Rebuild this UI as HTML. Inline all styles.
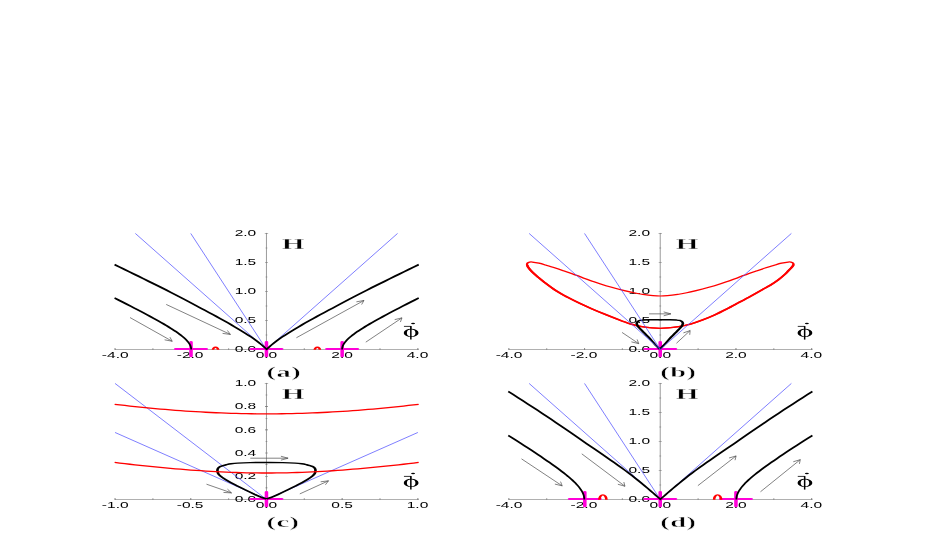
<!DOCTYPE html>
<html>
<head>
<meta charset="utf-8">
<title>Phase portraits</title>
<style>
html,body{margin:0;padding:0;background:#fff;}
body{width:926px;height:545px;overflow:hidden;font-family:"Liberation Sans",sans-serif;}
svg{display:block;will-change:transform;}
</style>
</head>
<body>
<svg width="926" height="545" viewBox="0 0 926 545">
<g transform="scale(1.87,1)">
<line x1="61.44" y1="349.45" x2="223.93" y2="349.45" stroke="#b0b0b0" stroke-width="1" />
<line x1="142.49" y1="349.45" x2="142.49" y2="232.95" stroke="#7c7c7c" stroke-width="0.53" />
<path d="M81.76 349.45v-1M122.25 349.45v-1M162.73 349.45v-1M203.21 349.45v-1M61.52 349.75v-1.6M102.01 349.75v-1.6M142.49 349.75v-1.6M182.97 349.75v-1.6M223.45 349.75v-1.6M141.99 334.95h1M141.99 305.95h1M141.99 276.95h1M141.99 247.95h1M141.69 349.45h1.6M141.69 320.45h1.6M141.69 291.45h1.6M141.69 262.45h1.6M141.69 233.45h1.6M141.59 233.45h1.8" fill="none" stroke="#6e6e6e" stroke-width="0.6" />
<text x="61.63" y="357.75" font-family="'Liberation Sans', sans-serif" font-size="8.3" font-weight="normal" text-anchor="middle" fill="#000">-4.0</text>
<text x="101.68" y="357.75" font-family="'Liberation Sans', sans-serif" font-size="8.3" font-weight="normal" text-anchor="middle" fill="#000">-2.0</text>
<text x="142.49" y="357.75" font-family="'Liberation Sans', sans-serif" font-size="8.3" font-weight="normal" text-anchor="middle" fill="#000">0.0</text>
<text x="182.97" y="357.75" font-family="'Liberation Sans', sans-serif" font-size="8.3" font-weight="normal" text-anchor="middle" fill="#000">2.0</text>
<text x="223.29" y="357.75" font-family="'Liberation Sans', sans-serif" font-size="8.3" font-weight="normal" text-anchor="middle" fill="#000">4.0</text>
<text x="137.03" y="352.15" font-family="'Liberation Sans', sans-serif" font-size="8.3" font-weight="normal" text-anchor="end" fill="#000">0.0</text>
<text x="137.03" y="323.15" font-family="'Liberation Sans', sans-serif" font-size="8.3" font-weight="normal" text-anchor="end" fill="#000">0.5</text>
<text x="137.03" y="294.15" font-family="'Liberation Sans', sans-serif" font-size="8.3" font-weight="normal" text-anchor="end" fill="#000">1.0</text>
<text x="137.03" y="265.15" font-family="'Liberation Sans', sans-serif" font-size="8.3" font-weight="normal" text-anchor="end" fill="#000">1.5</text>
<text x="137.03" y="236.15" font-family="'Liberation Sans', sans-serif" font-size="8.3" font-weight="normal" text-anchor="end" fill="#000">2.0</text>
<text x="150.72" y="249.45" font-family="'Liberation Serif', serif" font-size="15.6" font-weight="bold" text-anchor="start" fill="#000" stroke="#fff" stroke-width="0.35">H</text>
<line x1="102.01" y1="233.45" x2="142.49" y2="349.45" stroke="#4c4cff" stroke-width="0.5" />
<line x1="72.37" y1="233.45" x2="142.49" y2="349.45" stroke="#4c4cff" stroke-width="0.5" />
<line x1="212.6" y1="233.45" x2="142.49" y2="349.45" stroke="#4c4cff" stroke-width="0.5" />
<line x1="93.96" y1="349.05" x2="110.32" y2="349.05" stroke="#ff00d8" stroke-width="1.9" stroke-linecap="round"/>
<line x1="102.14" y1="341.95" x2="102.14" y2="356.25" stroke="#ff00d8" stroke-width="1.9" stroke-linecap="round"/>
<line x1="134.3" y1="349.05" x2="150.67" y2="349.05" stroke="#ff00d8" stroke-width="1.9" stroke-linecap="round"/>
<line x1="142.49" y1="341.95" x2="142.49" y2="356.25" stroke="#ff00d8" stroke-width="1.9" stroke-linecap="round"/>
<line x1="174.79" y1="349.05" x2="191.15" y2="349.05" stroke="#ff00d8" stroke-width="1.9" stroke-linecap="round"/>
<line x1="182.97" y1="341.95" x2="182.97" y2="356.25" stroke="#ff00d8" stroke-width="1.9" stroke-linecap="round"/>
<path d="M61.27 264.58L63.9 266.98L66.51 269.36L69.11 271.72L71.68 274.07L74.23 276.42L76.76 278.75L79.26 281.07L81.75 283.37L84.21 285.66L86.64 287.93L89.05 290.18L91.44 292.43L93.8 294.68L96.14 296.95L98.45 299.23L100.73 301.5L102.98 303.75L105.21 305.97L107.4 308.17L109.56 310.33L111.7 312.45L113.79 314.55L115.86 316.64L117.88 318.71L119.87 320.76L121.82 322.81L123.73 324.87L125.59 326.91L127.41 328.93L129.18 330.93L130.9 332.92L132.56 334.89L134.16 336.83L135.69 338.75L137.15 340.71L138.52 342.7L139.79 344.65L140.94 346.49L141.92 348.11L142.59 349.25L143.27 348.11L144.25 346.49L145.4 344.65L146.67 342.7L148.04 340.71L149.5 338.75L151.03 336.83L152.63 334.89L154.29 332.92L156.01 330.93L157.78 328.93L159.6 326.91L161.46 324.87L163.37 322.81L165.32 320.76L167.31 318.71L169.33 316.64L171.39 314.55L173.49 312.45L175.62 310.33L177.79 308.17L179.98 305.97L182.2 303.75L184.46 301.5L186.74 299.23L189.05 296.95L191.38 294.68L193.75 292.43L196.13 290.18L198.54 287.93L200.98 285.66L203.44 283.37L205.93 281.07L208.43 278.75L210.96 276.42L213.51 274.07L216.08 271.72L218.67 269.36L221.29 266.98L223.92 264.58" fill="none" stroke="#000" stroke-width="1.8" stroke-linejoin="round" vector-effect="non-scaling-stroke"/>
<path d="M182.95 349.45L182.96 348.82L183.01 348.09L183.09 347.33L183.21 346.54L183.37 345.72L183.58 344.88L183.84 344.02L184.14 343.14L184.49 342.23L184.89 341.31L185.34 340.36L185.85 339.39L186.41 338.4L187.02 337.38L187.69 336.33L188.41 335.26L189.19 334.16L190.02 333.02L190.92 331.86L191.87 330.66L192.88 329.43L193.95 328.16L195.08 326.86L196.27 325.52L197.52 324.14L198.83 322.71L200.21 321.25L201.64 319.75L203.14 318.2L204.71 316.61L206.34 314.97L208.03 313.28L209.78 311.55L211.6 309.77L213.49 307.94L215.44 306.06L217.46 304.13L219.55 302.15L221.7 300.11L223.92 298.03" fill="none" stroke="#000" stroke-width="1.8" vector-effect="non-scaling-stroke"/>
<path d="M102.24 349.45L102.22 348.82L102.18 348.09L102.1 347.33L101.98 346.54L101.81 345.72L101.6 344.88L101.35 344.02L101.05 343.14L100.7 342.23L100.29 341.31L99.84 340.36L99.34 339.39L98.78 338.4L98.17 337.38L97.5 336.33L96.78 335.26L96 334.16L95.16 333.02L94.27 331.86L93.32 330.66L92.31 329.43L91.24 328.16L90.11 326.86L88.92 325.52L87.67 324.14L86.36 322.71L84.98 321.25L83.54 319.75L82.04 318.2L80.48 316.61L78.85 314.97L77.16 313.28L75.4 311.55L73.58 309.77L71.7 307.94L69.74 306.06L67.72 304.13L65.64 302.15L63.49 300.11L61.27 298.03" fill="none" stroke="#000" stroke-width="1.8" vector-effect="non-scaling-stroke"/>
<path d="M113.9 349.75A1.36 2.5 0 0 1 116.63 349.75" fill="none" stroke="#ff0000" stroke-width="1.4" />
<path d="M168.34 349.75A1.36 2.5 0 0 1 171.07 349.75" fill="none" stroke="#ff0000" stroke-width="1.4" />
<path d="M69.52 317.55L92.09 341.25M90.86 337.13L92.09 341.25L88.03 339.82" fill="none" stroke="#505050" stroke-width="0.5" />
<path d="M88.88 304.45L123.21 334.45M121.61 330.46L123.21 334.45L119.04 333.4" fill="none" stroke="#505050" stroke-width="0.5" />
<path d="M158.5 337.75L194.65 300.45M190.58 301.84L194.65 300.45L193.39 304.56" fill="none" stroke="#505050" stroke-width="0.5" />
<path d="M195.61 342.15L214.97 317.85M211.06 319.63L214.97 317.85L214.11 322.06" fill="none" stroke="#505050" stroke-width="0.5" />
<text x="142.54" y="377.05" font-family="'Liberation Serif', serif" font-size="15.2" font-weight="bold" text-anchor="start" fill="#000" stroke="#fff" stroke-width="0.35" letter-spacing="0.25">(a)</text>
<line x1="272.03" y1="499.45" x2="434.52" y2="499.45" stroke="#b0b0b0" stroke-width="1" />
<line x1="353.07" y1="499.45" x2="353.07" y2="382.95" stroke="#7c7c7c" stroke-width="0.53" />
<path d="M292.35 499.45v-1M332.83 499.45v-1M373.32 499.45v-1M413.8 499.45v-1M272.11 499.75v-1.6M312.59 499.75v-1.6M353.07 499.75v-1.6M393.56 499.75v-1.6M434.04 499.75v-1.6M352.57 484.95h1M352.57 455.95h1M352.57 426.95h1M352.57 397.95h1M352.27 499.45h1.6M352.27 470.45h1.6M352.27 441.45h1.6M352.27 412.45h1.6M352.27 383.45h1.6M352.17 383.45h1.8" fill="none" stroke="#6e6e6e" stroke-width="0.6" />
<text x="272.22" y="507.75" font-family="'Liberation Sans', sans-serif" font-size="8.3" font-weight="normal" text-anchor="middle" fill="#000">-4.0</text>
<text x="312.27" y="507.75" font-family="'Liberation Sans', sans-serif" font-size="8.3" font-weight="normal" text-anchor="middle" fill="#000">-2.0</text>
<text x="353.07" y="507.75" font-family="'Liberation Sans', sans-serif" font-size="8.3" font-weight="normal" text-anchor="middle" fill="#000">0.0</text>
<text x="393.56" y="507.75" font-family="'Liberation Sans', sans-serif" font-size="8.3" font-weight="normal" text-anchor="middle" fill="#000">2.0</text>
<text x="433.88" y="507.75" font-family="'Liberation Sans', sans-serif" font-size="8.3" font-weight="normal" text-anchor="middle" fill="#000">4.0</text>
<text x="347.62" y="502.15" font-family="'Liberation Sans', sans-serif" font-size="8.3" font-weight="normal" text-anchor="end" fill="#000">0.0</text>
<text x="347.62" y="473.15" font-family="'Liberation Sans', sans-serif" font-size="8.3" font-weight="normal" text-anchor="end" fill="#000">0.5</text>
<text x="347.62" y="444.15" font-family="'Liberation Sans', sans-serif" font-size="8.3" font-weight="normal" text-anchor="end" fill="#000">1.0</text>
<text x="347.62" y="415.15" font-family="'Liberation Sans', sans-serif" font-size="8.3" font-weight="normal" text-anchor="end" fill="#000">1.5</text>
<text x="347.62" y="386.15" font-family="'Liberation Sans', sans-serif" font-size="8.3" font-weight="normal" text-anchor="end" fill="#000">2.0</text>
<text x="361.31" y="399.45" font-family="'Liberation Serif', serif" font-size="15.6" font-weight="bold" text-anchor="start" fill="#000" stroke="#fff" stroke-width="0.35">H</text>
<line x1="312.59" y1="383.45" x2="353.07" y2="499.45" stroke="#4c4cff" stroke-width="0.5" />
<line x1="282.96" y1="383.45" x2="353.07" y2="499.45" stroke="#4c4cff" stroke-width="0.5" />
<line x1="423.19" y1="383.45" x2="353.07" y2="499.45" stroke="#4c4cff" stroke-width="0.5" />
<line x1="304.55" y1="499.05" x2="320.91" y2="499.05" stroke="#ff00d8" stroke-width="1.9" stroke-linecap="round"/>
<line x1="312.73" y1="491.95" x2="312.73" y2="506.25" stroke="#ff00d8" stroke-width="1.9" stroke-linecap="round"/>
<line x1="344.89" y1="499.05" x2="361.26" y2="499.05" stroke="#ff00d8" stroke-width="1.9" stroke-linecap="round"/>
<line x1="353.07" y1="491.95" x2="353.07" y2="506.25" stroke="#ff00d8" stroke-width="1.9" stroke-linecap="round"/>
<line x1="385.37" y1="499.05" x2="401.74" y2="499.05" stroke="#ff00d8" stroke-width="1.9" stroke-linecap="round"/>
<line x1="393.56" y1="491.95" x2="393.56" y2="506.25" stroke="#ff00d8" stroke-width="1.9" stroke-linecap="round"/>
<path d="M271.8 391.44L274.44 394.56L277.05 397.67L279.64 400.79L282.21 403.9L284.76 407L287.29 410.11L289.8 413.21L292.28 416.3L294.74 419.37L297.18 422.43L299.59 425.48L301.98 428.51L304.34 431.53L306.67 434.53L308.98 437.53L311.27 440.5L313.52 443.39L315.74 446.18L317.94 448.94L320.1 451.71L322.23 454.48L324.33 457.22L326.39 459.91L328.42 462.54L330.41 465.16L332.35 467.77L334.26 470.36L336.13 472.96L337.95 475.58L339.71 478.2L341.43 480.78L343.09 483.32L344.69 485.79L346.22 488.18L347.68 490.48L349.05 492.67L350.32 494.71L351.47 496.56L352.46 498.16L353.13 499.25L353.8 498.16L354.78 496.56L355.93 494.71L357.2 492.67L358.58 490.48L360.03 488.18L361.57 485.79L363.16 483.32L364.83 480.78L366.54 478.2L368.31 475.58L370.13 472.96L371.99 470.36L373.9 467.77L375.85 465.16L377.84 462.54L379.87 459.91L381.93 457.22L384.03 454.48L386.16 451.71L388.32 448.94L390.51 446.18L392.74 443.39L394.99 440.5L397.27 437.53L399.58 434.53L401.92 431.53L404.28 428.51L406.67 425.48L409.08 422.43L411.52 419.37L413.98 416.3L416.46 413.21L418.97 410.11L421.49 407L424.04 403.9L426.62 400.79L429.21 397.67L431.82 394.56L434.45 391.44" fill="none" stroke="#000" stroke-width="1.8" stroke-linejoin="round" vector-effect="non-scaling-stroke"/>
<path d="M393.79 499.45L393.8 498.67L393.85 497.78L393.93 496.83L394.05 495.85L394.21 494.84L394.42 493.8L394.67 492.74L394.97 491.65L395.32 490.53L395.72 489.39L396.17 488.22L396.67 487.02L397.22 485.79L397.83 484.52L398.49 483.23L399.21 481.9L399.98 480.53L400.81 479.12L401.7 477.67L402.64 476.18L403.64 474.65L404.71 473.07L405.83 471.45L407.01 469.77L408.25 468.05L409.55 466.28L410.92 464.45L412.34 462.57L413.83 460.64L415.39 458.65L417 456.6L418.68 454.49L420.42 452.33L422.23 450.1L424.1 447.81L426.04 445.45L428.05 443.04L430.12 440.55L432.25 438.01L434.45 435.39" fill="none" stroke="#000" stroke-width="1.8" vector-effect="non-scaling-stroke"/>
<path d="M312.47 499.45L312.45 498.67L312.41 497.78L312.33 496.83L312.21 495.85L312.05 494.84L311.84 493.8L311.59 492.74L311.29 491.65L310.94 490.53L310.54 489.39L310.09 488.22L309.59 487.02L309.03 485.79L308.43 484.52L307.77 483.23L307.05 481.9L306.28 480.53L305.45 479.12L304.56 477.67L303.62 476.18L302.61 474.65L301.55 473.07L300.43 471.45L299.25 469.77L298.01 468.05L296.7 466.28L295.34 464.45L293.91 462.57L292.42 460.64L290.87 458.65L289.26 456.6L287.58 454.49L285.83 452.33L284.03 450.1L282.15 447.81L280.21 445.45L278.21 443.04L276.14 440.55L274.01 438.01L271.8 435.39" fill="none" stroke="#000" stroke-width="1.8" vector-effect="non-scaling-stroke"/>
<path d="M320.53 499.75A1.87 4.9 0 0 1 324.28 499.75" fill="none" stroke="#ff0000" stroke-width="1.4" />
<path d="M381.87 499.75A1.87 4.9 0 0 1 385.61 499.75" fill="none" stroke="#ff0000" stroke-width="1.4" />
<path d="M278.88 458.85L300.64 485.85M299.76 481.64L300.64 485.85L296.72 484.09" fill="none" stroke="#505050" stroke-width="0.5" />
<path d="M311.12 453.85L334.22 486.25M333.59 482L334.22 486.25L330.41 484.26" fill="none" stroke="#505050" stroke-width="0.5" />
<path d="M373.21 485.65L393.64 455.95M389.86 458L393.64 455.95L393.07 460.21" fill="none" stroke="#505050" stroke-width="0.5" />
<path d="M406.68 491.75L427.97 459.65M424.22 461.76L427.97 459.65L427.48 463.92" fill="none" stroke="#505050" stroke-width="0.5" />
<text x="353.13" y="527.05" font-family="'Liberation Serif', serif" font-size="15.2" font-weight="bold" text-anchor="start" fill="#000" stroke="#fff" stroke-width="0.35" letter-spacing="0.25">(d)</text>
<line x1="272.03" y1="349.45" x2="434.52" y2="349.45" stroke="#b0b0b0" stroke-width="1" />
<line x1="353.07" y1="349.45" x2="353.07" y2="232.95" stroke="#7c7c7c" stroke-width="0.53" />
<path d="M292.35 349.45v-1M332.83 349.45v-1M373.32 349.45v-1M413.8 349.45v-1M272.11 349.75v-1.6M312.59 349.75v-1.6M353.07 349.75v-1.6M393.56 349.75v-1.6M434.04 349.75v-1.6M352.57 334.95h1M352.57 305.95h1M352.57 276.95h1M352.57 247.95h1M352.27 349.45h1.6M352.27 320.45h1.6M352.27 291.45h1.6M352.27 262.45h1.6M352.27 233.45h1.6M352.17 233.45h1.8" fill="none" stroke="#6e6e6e" stroke-width="0.6" />
<text x="272.22" y="357.75" font-family="'Liberation Sans', sans-serif" font-size="8.3" font-weight="normal" text-anchor="middle" fill="#000">-4.0</text>
<text x="312.27" y="357.75" font-family="'Liberation Sans', sans-serif" font-size="8.3" font-weight="normal" text-anchor="middle" fill="#000">-2.0</text>
<text x="353.07" y="357.75" font-family="'Liberation Sans', sans-serif" font-size="8.3" font-weight="normal" text-anchor="middle" fill="#000">0.0</text>
<text x="393.56" y="357.75" font-family="'Liberation Sans', sans-serif" font-size="8.3" font-weight="normal" text-anchor="middle" fill="#000">2.0</text>
<text x="433.88" y="357.75" font-family="'Liberation Sans', sans-serif" font-size="8.3" font-weight="normal" text-anchor="middle" fill="#000">4.0</text>
<text x="347.62" y="352.15" font-family="'Liberation Sans', sans-serif" font-size="8.3" font-weight="normal" text-anchor="end" fill="#000">0.0</text>
<text x="347.62" y="323.15" font-family="'Liberation Sans', sans-serif" font-size="8.3" font-weight="normal" text-anchor="end" fill="#000">0.5</text>
<text x="347.62" y="294.15" font-family="'Liberation Sans', sans-serif" font-size="8.3" font-weight="normal" text-anchor="end" fill="#000">1.0</text>
<text x="347.62" y="265.15" font-family="'Liberation Sans', sans-serif" font-size="8.3" font-weight="normal" text-anchor="end" fill="#000">1.5</text>
<text x="347.62" y="236.15" font-family="'Liberation Sans', sans-serif" font-size="8.3" font-weight="normal" text-anchor="end" fill="#000">2.0</text>
<text x="361.31" y="249.45" font-family="'Liberation Serif', serif" font-size="15.6" font-weight="bold" text-anchor="start" fill="#000" stroke="#fff" stroke-width="0.35">H</text>
<line x1="344.89" y1="349.05" x2="361.26" y2="349.05" stroke="#ff00d8" stroke-width="1.9" stroke-linecap="round"/>
<line x1="353.07" y1="341.95" x2="353.07" y2="356.25" stroke="#ff00d8" stroke-width="1.9" stroke-linecap="round"/>
<path d="M353.07 296C356.37 296 360.26 294.94 362.97 294.25C365.68 293.56 367.21 292.73 369.33 291.85C371.45 290.97 373.57 289.98 375.7 288.95C377.83 287.92 379.98 286.83 382.11 285.65C384.24 284.47 386.35 283.22 388.48 281.85C390.6 280.48 392.89 278.82 394.84 277.45C396.79 276.08 398.5 274.78 400.19 273.65C401.87 272.52 403.31 271.67 404.95 270.65C406.58 269.63 408.42 268.5 410 267.55C411.58 266.6 413.11 265.68 414.44 264.95C415.77 264.22 416.79 263.63 417.97 263.15C419.14 262.67 420.67 262.22 421.5 262.05C422.33 261.87 422.53 261.96 422.94 262.1C423.35 262.24 423.73 262.54 423.96 262.9C424.19 263.26 424.33 263.75 424.33 264.25C424.33 264.75 424.19 265.24 423.96 265.9C423.73 266.56 423.35 267.37 422.94 268.2C422.53 269.03 422.02 269.89 421.5 270.9C420.97 271.91 420.67 272.76 419.79 274.25C418.9 275.74 417.49 278.02 416.18 279.85C414.86 281.68 413.32 283.62 411.9 285.25C410.47 286.88 409.4 287.78 407.62 289.65C405.84 291.52 403.33 294.25 401.2 296.45C399.07 298.65 396.96 300.73 394.84 302.85C392.72 304.97 390.6 307.13 388.48 309.15C386.35 311.17 384.24 313.15 382.11 314.95C379.98 316.75 377.83 318.43 375.7 319.95C373.57 321.47 371.45 322.93 369.33 324.05C367.21 325.17 365.68 325.93 362.97 326.65C360.26 327.37 356.37 328.35 353.07 328.35C349.78 328.35 345.89 327.42 343.18 326.65C340.47 325.88 339.16 325.12 336.82 323.75C334.47 322.38 331.47 320.12 329.12 318.45C326.77 316.77 324.85 315.32 322.73 313.7C320.6 312.07 318.49 310.43 316.36 308.7C314.24 306.97 312.1 305.19 309.97 303.3C307.84 301.41 305.71 299.47 303.58 297.35C301.46 295.22 299.34 293.13 297.22 290.55C295.09 287.97 292.42 284.1 290.83 281.85C289.23 279.6 288.71 278.74 287.65 277.05C286.58 275.36 285.29 273.29 284.44 271.7C283.59 270.11 282.95 268.54 282.54 267.5C282.13 266.46 282.13 265.99 282.01 265.45C281.89 264.91 281.79 264.68 281.82 264.25C281.85 263.82 281.96 263.26 282.19 262.9C282.42 262.54 282.8 262.24 283.21 262.1C283.62 261.96 283.82 261.87 284.65 262.05C285.48 262.22 287.01 262.67 288.18 263.15C289.36 263.63 290.38 264.22 291.71 264.95C293.04 265.68 294.57 266.6 296.15 267.55C297.73 268.5 299.57 269.63 301.2 270.65C302.84 271.67 304.28 272.52 305.96 273.65C307.65 274.78 309.36 276.08 311.31 277.45C313.26 278.82 315.55 280.48 317.67 281.85C319.8 283.22 321.91 284.47 324.04 285.65C326.17 286.83 328.32 287.92 330.45 288.95C332.58 289.98 334.7 290.97 336.82 291.85C338.94 292.73 340.47 293.56 343.18 294.25C345.89 294.94 349.78 296 353.07 296Z" fill="none" stroke="#ff0000" stroke-width="1.2" />
<path d="M282.01 265.45C282.09 265.79 282.13 266.46 282.54 267.5C282.95 268.54 283.59 270.11 284.44 271.7C285.29 273.29 286.58 275.36 287.65 277.05C288.71 278.74 289.23 279.6 290.83 281.85C292.42 284.1 295.09 287.97 297.22 290.55C299.34 293.13 301.46 295.22 303.58 297.35C305.71 299.47 307.84 301.41 309.97 303.3C312.1 305.19 314.24 306.97 316.36 308.7C318.49 310.43 320.6 312.07 322.73 313.7C324.85 315.32 326.77 316.77 329.12 318.45C331.47 320.12 334.47 322.38 336.82 323.75C339.16 325.12 340.47 325.88 343.18 326.65C345.89 327.42 349.78 328.35 353.07 328.35C356.37 328.35 360.26 327.37 362.97 326.65C365.68 325.93 367.21 325.17 369.33 324.05C371.45 322.93 373.57 321.47 375.7 319.95C377.83 318.43 379.98 316.75 382.11 314.95C384.24 313.15 386.35 311.17 388.48 309.15C390.6 307.13 392.72 304.97 394.84 302.85C396.96 300.73 399.07 298.65 401.2 296.45C403.33 294.25 405.84 291.52 407.62 289.65C409.4 287.78 410.47 286.88 411.9 285.25C413.32 283.62 414.86 281.68 416.18 279.85C417.49 278.02 418.9 275.74 419.79 274.25C420.67 272.76 420.97 271.91 421.5 270.9C422.02 269.89 422.53 269.03 422.94 268.2C423.35 267.37 423.74 266.46 423.96 265.9C424.18 265.34 424.2 265.03 424.25 264.85" fill="none" stroke="#ff0000" stroke-width="1.45" stroke-linecap="round"/>
<path d="M352.83 349.15C352.51 348.57 351.52 346.88 350.91 345.7C350.29 344.52 349.73 343.27 349.14 342.05C348.56 340.83 347.99 339.56 347.41 338.4C346.83 337.24 346.25 336.2 345.67 335.1C345.09 334 344.51 332.9 343.93 331.8C343.35 330.7 342.68 329.48 342.19 328.5C341.71 327.52 341.3 326.72 341.02 325.9C340.73 325.08 340.49 324.32 340.48 323.6C340.47 322.88 340.68 322.12 340.96 321.6C341.25 321.07 341.7 320.71 342.19 320.45C342.69 320.19 343.06 320.16 343.93 320.05C344.8 319.94 345.92 319.86 347.41 319.8C348.89 319.74 351.93 319.72 352.83 319.7M352.83 349.15C353.16 348.57 354.14 346.88 354.76 345.7C355.37 344.52 355.94 343.27 356.52 342.05C357.11 340.83 357.68 339.56 358.26 338.4C358.84 337.24 359.42 336.2 360 335.1C360.58 334 361.16 332.9 361.74 331.8C362.32 330.7 362.99 329.48 363.48 328.5C363.96 327.52 364.37 326.72 364.65 325.9C364.94 325.08 365.18 324.32 365.19 323.6C365.2 322.88 364.99 322.12 364.71 321.6C364.42 321.07 363.97 320.71 363.48 320.45C362.98 320.19 362.61 320.16 361.74 320.05C360.87 319.94 359.75 319.86 358.26 319.8C356.78 319.74 353.74 319.72 352.83 319.7" fill="none" stroke="#000" stroke-width="1.4" stroke-linejoin="round"/>
<line x1="312.59" y1="233.45" x2="353.07" y2="349.45" stroke="#4c4cff" stroke-width="0.5" />
<line x1="282.96" y1="233.45" x2="353.07" y2="349.45" stroke="#4c4cff" stroke-width="0.5" />
<line x1="423.19" y1="233.45" x2="353.07" y2="349.45" stroke="#4c4cff" stroke-width="0.5" />
<path d="M347.09 313.85L358.74 313.85M354.91 311.9L358.74 313.85L354.91 315.8" fill="none" stroke="#505050" stroke-width="0.5" />
<path d="M332.65 332.45L341.58 343.65M340.72 339.44L341.58 343.65L337.66 341.87" fill="none" stroke="#505050" stroke-width="0.5" />
<path d="M361.74 343.25L369.06 330.55M365.46 332.89L369.06 330.55L368.84 334.84" fill="none" stroke="#505050" stroke-width="0.5" />
<text x="353.13" y="377.05" font-family="'Liberation Serif', serif" font-size="15.2" font-weight="bold" text-anchor="start" fill="#000" stroke="#fff" stroke-width="0.35" letter-spacing="0.25">(b)</text>
<line x1="61.44" y1="499.45" x2="223.93" y2="499.45" stroke="#b0b0b0" stroke-width="1" />
<line x1="142.49" y1="499.45" x2="142.49" y2="382.95" stroke="#7c7c7c" stroke-width="0.53" />
<path d="M81.76 499.45v-1M122.25 499.45v-1M162.73 499.45v-1M203.21 499.45v-1M61.52 499.75v-1.6M102.01 499.75v-1.6M142.49 499.75v-1.6M182.97 499.75v-1.6M223.45 499.75v-1.6M141.99 487.85h1M141.99 464.65h1M141.99 441.45h1M141.99 418.25h1M141.99 395.05h1M141.69 499.45h1.6M141.69 476.25h1.6M141.69 453.05h1.6M141.69 429.85h1.6M141.69 406.65h1.6M141.69 383.45h1.6M141.59 383.45h1.8" fill="none" stroke="#6e6e6e" stroke-width="0.6" />
<text x="61.63" y="507.75" font-family="'Liberation Sans', sans-serif" font-size="8.3" font-weight="normal" text-anchor="middle" fill="#000">-1.0</text>
<text x="101.68" y="507.75" font-family="'Liberation Sans', sans-serif" font-size="8.3" font-weight="normal" text-anchor="middle" fill="#000">-0.5</text>
<text x="142.49" y="507.75" font-family="'Liberation Sans', sans-serif" font-size="8.3" font-weight="normal" text-anchor="middle" fill="#000">0.0</text>
<text x="182.97" y="507.75" font-family="'Liberation Sans', sans-serif" font-size="8.3" font-weight="normal" text-anchor="middle" fill="#000">0.5</text>
<text x="223.29" y="507.75" font-family="'Liberation Sans', sans-serif" font-size="8.3" font-weight="normal" text-anchor="middle" fill="#000">1.0</text>
<text x="137.03" y="502.15" font-family="'Liberation Sans', sans-serif" font-size="8.3" font-weight="normal" text-anchor="end" fill="#000">0.0</text>
<text x="137.03" y="478.95" font-family="'Liberation Sans', sans-serif" font-size="8.3" font-weight="normal" text-anchor="end" fill="#000">0.2</text>
<text x="137.03" y="455.75" font-family="'Liberation Sans', sans-serif" font-size="8.3" font-weight="normal" text-anchor="end" fill="#000">0.4</text>
<text x="137.03" y="432.55" font-family="'Liberation Sans', sans-serif" font-size="8.3" font-weight="normal" text-anchor="end" fill="#000">0.6</text>
<text x="137.03" y="409.35" font-family="'Liberation Sans', sans-serif" font-size="8.3" font-weight="normal" text-anchor="end" fill="#000">0.8</text>
<text x="137.03" y="386.15" font-family="'Liberation Sans', sans-serif" font-size="8.3" font-weight="normal" text-anchor="end" fill="#000">1.0</text>
<text x="150.72" y="399.45" font-family="'Liberation Serif', serif" font-size="15.6" font-weight="bold" text-anchor="start" fill="#000" stroke="#fff" stroke-width="0.35">H</text>
<line x1="61.52" y1="383.45" x2="142.49" y2="499.45" stroke="#4c4cff" stroke-width="0.5" />
<line x1="61.52" y1="432.48" x2="142.49" y2="499.45" stroke="#4c4cff" stroke-width="0.5" />
<line x1="223.45" y1="432.48" x2="142.49" y2="499.45" stroke="#4c4cff" stroke-width="0.5" />
<line x1="134.3" y1="499.05" x2="150.67" y2="499.05" stroke="#ff00d8" stroke-width="1.9" stroke-linecap="round"/>
<line x1="142.49" y1="491.95" x2="142.49" y2="506.25" stroke="#ff00d8" stroke-width="1.9" stroke-linecap="round"/>
<path d="M142.49 498.85C142 498.57 140.55 497.85 139.55 497.15C138.54 496.45 137.86 495.87 136.44 494.65C135.03 493.43 132.83 491.48 131.04 489.85C129.25 488.22 127.44 486.58 125.7 484.85C123.95 483.12 121.88 480.95 120.56 479.45C119.24 477.95 118.43 476.85 117.78 475.85C117.13 474.85 116.91 474.28 116.66 473.45C116.41 472.62 116.33 471.56 116.28 470.85C116.24 470.14 116.28 469.74 116.39 469.2C116.5 468.66 116.66 468.07 116.93 467.6C117.19 467.13 117.58 466.73 117.97 466.4C118.35 466.07 118.72 465.87 119.22 465.6C119.73 465.32 120.26 465.05 120.99 464.75C121.72 464.45 122.58 464.08 123.61 463.8C124.63 463.52 125.45 463.3 127.14 463.1C128.83 462.9 131.21 462.71 133.77 462.6C136.33 462.49 141.03 462.47 142.49 462.45M142.49 498.85C142.98 498.57 144.42 497.85 145.43 497.15C146.43 496.45 147.11 495.87 148.53 494.65C149.95 493.43 152.14 491.48 153.93 489.85C155.72 488.22 157.53 486.58 159.28 484.85C161.02 483.12 163.09 480.95 164.41 479.45C165.73 477.95 166.54 476.85 167.19 475.85C167.84 474.85 168.07 474.28 168.32 473.45C168.57 472.62 168.65 471.56 168.69 470.85C168.73 470.14 168.69 469.74 168.58 469.2C168.48 468.66 168.31 468.07 168.05 467.6C167.79 467.13 167.39 466.73 167.01 466.4C166.62 466.07 166.25 465.87 165.75 465.6C165.25 465.32 164.71 465.05 163.98 464.75C163.25 464.45 162.39 464.08 161.36 463.8C160.34 463.52 159.53 463.3 157.83 463.1C156.14 462.9 153.76 462.71 151.2 462.6C148.65 462.49 143.94 462.47 142.49 462.45" fill="none" stroke="#000" stroke-width="1.4" stroke-linejoin="round"/>
<path d="M61.31 404.29L64.02 404.89L66.73 405.47L69.44 406.03L72.15 406.58L74.86 407.11L77.57 407.62L80.28 408.11L82.99 408.58L85.7 409.04L88.4 409.48L91.11 409.89L93.82 410.29L96.53 410.67L99.24 411.02L101.95 411.36L104.66 411.68L107.37 411.97L110.08 412.25L112.79 412.5L115.5 412.73L118.21 412.94L120.92 413.13L123.63 413.3L126.34 413.44L129.05 413.57L131.76 413.67L134.47 413.74L137.17 413.8L139.88 413.83L142.59 413.85L145.3 413.83L148.01 413.8L150.72 413.74L153.43 413.67L156.14 413.57L158.85 413.44L161.56 413.3L164.27 413.13L166.98 412.94L169.69 412.73L172.4 412.5L175.11 412.25L177.82 411.97L180.53 411.68L183.24 411.36L185.94 411.02L188.65 410.67L191.36 410.29L194.07 409.89L196.78 409.48L199.49 409.04L202.2 408.58L204.91 408.11L207.62 407.62L210.33 407.11L213.04 406.58L215.75 406.03L218.46 405.47L221.17 404.89L223.88 404.29" fill="none" stroke="#ff0000" stroke-width="1.3" />
<path d="M61.31 462.49L64.02 463.09L66.73 463.67L69.44 464.25L72.15 464.81L74.86 465.36L77.57 465.89L80.28 466.42L82.99 466.92L85.7 467.42L88.4 467.89L91.11 468.36L93.82 468.8L96.53 469.22L99.24 469.63L101.95 470.02L104.66 470.39L107.37 470.73L110.08 471.05L112.79 471.36L115.5 471.63L118.21 471.89L120.92 472.12L123.63 472.32L126.34 472.5L129.05 472.65L131.76 472.78L134.47 472.87L137.17 472.94L139.88 472.98L142.59 473L145.3 472.98L148.01 472.94L150.72 472.87L153.43 472.78L156.14 472.65L158.85 472.5L161.56 472.32L164.27 472.12L166.98 471.89L169.69 471.63L172.4 471.36L175.11 471.05L177.82 470.73L180.53 470.39L183.24 470.02L185.94 469.63L188.65 469.22L191.36 468.8L194.07 468.36L196.78 467.89L199.49 467.42L202.2 466.92L204.91 466.42L207.62 465.89L210.33 465.36L213.04 464.81L215.75 464.25L218.46 463.67L221.17 463.09L223.88 462.49" fill="none" stroke="#ff0000" stroke-width="1.3" />
<path d="M133.85 458.2L154.06 458.2M150.23 456.25L154.06 458.2L150.23 460.15" fill="none" stroke="#505050" stroke-width="0.5" />
<path d="M110.43 484.2L123.8 492.9M121.65 489.17L123.8 492.9L119.52 492.45" fill="none" stroke="#505050" stroke-width="0.5" />
<path d="M160.32 493.9L175.67 480.8M171.49 481.8L175.67 480.8L174.02 484.77" fill="none" stroke="#505050" stroke-width="0.5" />
<text x="142.54" y="527.05" font-family="'Liberation Serif', serif" font-size="15.2" font-weight="bold" text-anchor="start" fill="#000" stroke="#fff" stroke-width="0.35" letter-spacing="0.25">(c)</text>
</g>
<path fill-rule="evenodd" fill="#000" d="M403.75 332.9a7.4 4.15 0 1 0 14.8 0a7.4 4.15 0 1 0 -14.8 0ZM406.85 332.9a4.3 3.35 0 1 0 8.6 0a4.3 3.35 0 1 0 -8.6 0Z"/><path d="M403.95 326.4L410.85 326.4L410.85 328.9" fill="none" stroke="#000" stroke-width="0.8"/><line x1="410.85" y1="326.1" x2="410.85" y2="339.6" stroke="#000" stroke-width="1.5"/><ellipse cx="413.05" cy="323.4" rx="2" ry="0.75" fill="#000"/>
<path fill-rule="evenodd" fill="#000" d="M797.55 332.9a7.4 4.15 0 1 0 14.8 0a7.4 4.15 0 1 0 -14.8 0ZM800.65 332.9a4.3 3.35 0 1 0 8.6 0a4.3 3.35 0 1 0 -8.6 0Z"/><path d="M797.75 326.4L804.65 326.4L804.65 328.9" fill="none" stroke="#000" stroke-width="0.8"/><line x1="804.65" y1="326.1" x2="804.65" y2="339.6" stroke="#000" stroke-width="1.5"/><ellipse cx="806.85" cy="323.4" rx="2" ry="0.75" fill="#000"/>
<path fill-rule="evenodd" fill="#000" d="M403.75 482.9a7.4 4.15 0 1 0 14.8 0a7.4 4.15 0 1 0 -14.8 0ZM406.85 482.9a4.3 3.35 0 1 0 8.6 0a4.3 3.35 0 1 0 -8.6 0Z"/><path d="M403.95 476.4L410.85 476.4L410.85 478.9" fill="none" stroke="#000" stroke-width="0.8"/><line x1="410.85" y1="476.1" x2="410.85" y2="489.6" stroke="#000" stroke-width="1.5"/><ellipse cx="413.05" cy="473.4" rx="2" ry="0.75" fill="#000"/>
<path fill-rule="evenodd" fill="#000" d="M797.55 482.9a7.4 4.15 0 1 0 14.8 0a7.4 4.15 0 1 0 -14.8 0ZM800.65 482.9a4.3 3.35 0 1 0 8.6 0a4.3 3.35 0 1 0 -8.6 0Z"/><path d="M797.75 476.4L804.65 476.4L804.65 478.9" fill="none" stroke="#000" stroke-width="0.8"/><line x1="804.65" y1="476.1" x2="804.65" y2="489.6" stroke="#000" stroke-width="1.5"/><ellipse cx="806.85" cy="473.4" rx="2" ry="0.75" fill="#000"/>
</svg>
</body>
</html>
